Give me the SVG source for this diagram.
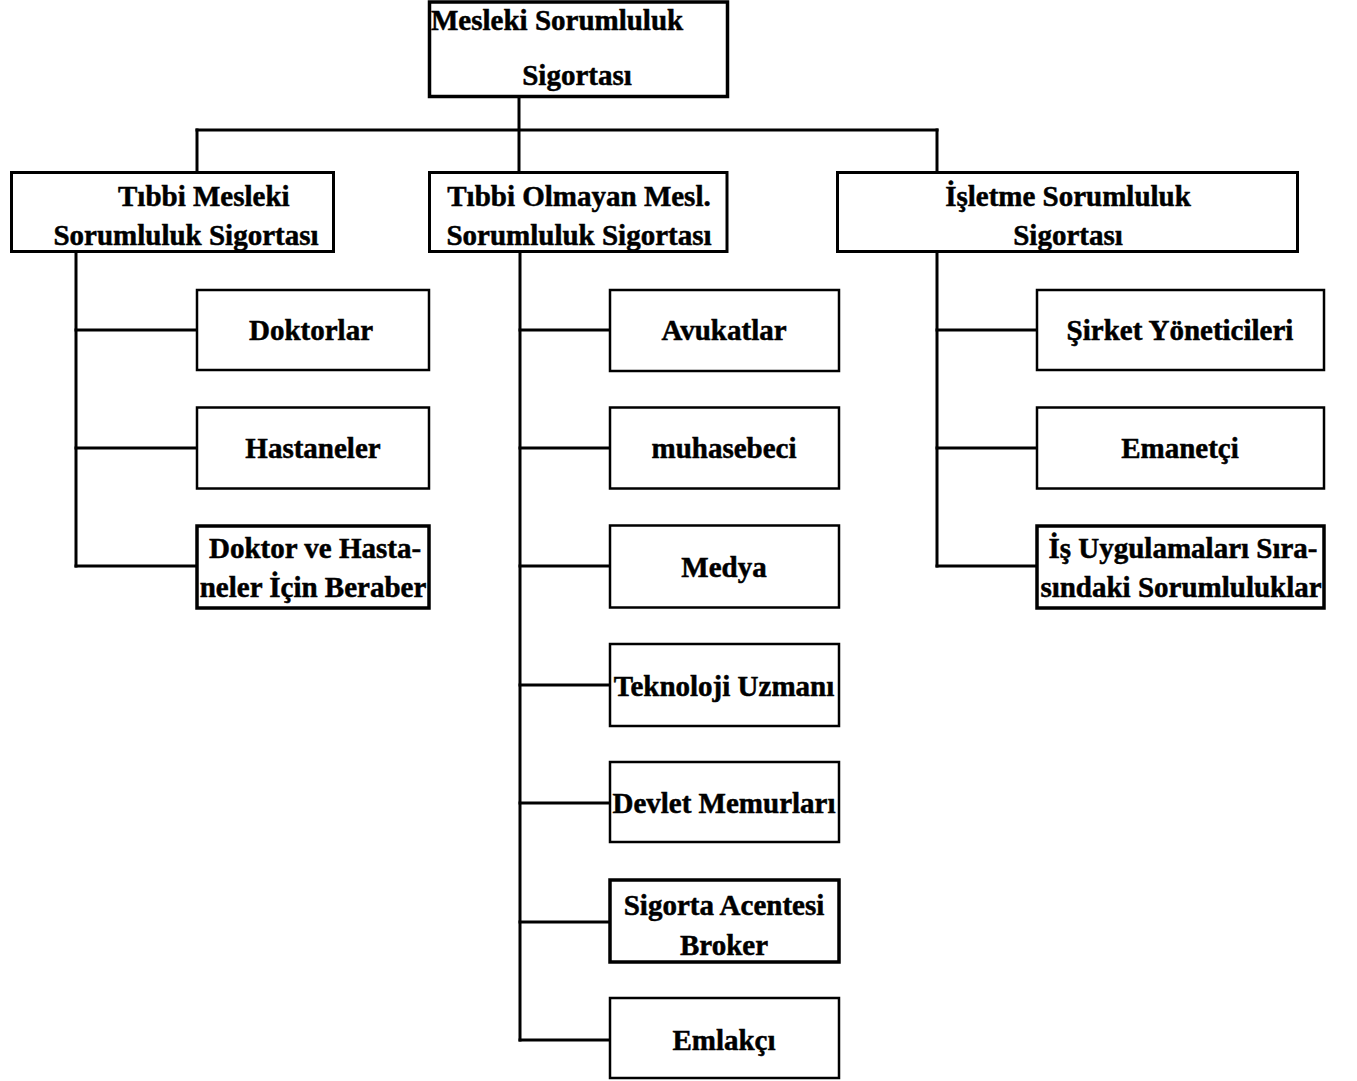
<svg xmlns="http://www.w3.org/2000/svg" width="1357" height="1081" viewBox="0 0 1357 1081">
<style>
.box{fill:#fff;stroke:#000;stroke-width:2.5}
.thick{stroke-width:3.5}
.lv2{stroke-width:3}
.t{font-family:"Liberation Serif","Times New Roman",serif;font-weight:bold;font-size:29px;fill:#000;stroke:#000;stroke-width:0.5}
.c{text-anchor:middle}
.conn line{stroke:#000;stroke-width:3;stroke-linecap:square}
</style>
<rect width="1357" height="1081" fill="#fff"/>
<g id="connectors" class="conn">
<line x1="519" y1="97" x2="519" y2="172"/>
<line x1="197" y1="130" x2="937" y2="130"/>
<line x1="197" y1="130" x2="197" y2="172"/>
<line x1="937" y1="130" x2="937" y2="172"/>
<line x1="76" y1="252" x2="76" y2="566"/>
<line x1="76" y1="330" x2="197" y2="330"/>
<line x1="76" y1="448" x2="197" y2="448"/>
<line x1="76" y1="566" x2="197" y2="566"/>
<line x1="520" y1="252" x2="520" y2="1040"/>
<line x1="520" y1="330" x2="610" y2="330"/>
<line x1="520" y1="448" x2="610" y2="448"/>
<line x1="520" y1="566" x2="610" y2="566"/>
<line x1="520" y1="685" x2="610" y2="685"/>
<line x1="520" y1="803" x2="610" y2="803"/>
<line x1="520" y1="922" x2="610" y2="922"/>
<line x1="520" y1="1040" x2="610" y2="1040"/>
<line x1="937" y1="252" x2="937" y2="566"/>
<line x1="937" y1="330" x2="1037" y2="330"/>
<line x1="937" y1="448" x2="1037" y2="448"/>
<line x1="937" y1="566" x2="1037" y2="566"/>
</g>
<g id="root">
<rect class="box thick" x="429.5" y="2" width="298" height="94.5"/>
<text class="t" x="431" y="30">Mesleki Sorumluluk</text>
<text class="t c" x="577" y="85">Sigortası</text>
</g>
<g id="tibbi">
<rect class="box lv2" x="11.5" y="172.5" width="322" height="79"/>
<text class="t" x="118" y="206">Tıbbi Mesleki</text>
<text class="t c" x="186" y="245">Sorumluluk Sigortası</text>
</g>
<g id="tibbi-olmayan">
<rect class="box lv2" x="429.5" y="172.5" width="297.5" height="79"/>
<text class="t c" x="579" y="206">Tıbbi Olmayan Mesl.</text>
<text class="t c" x="579" y="245">Sorumluluk Sigortası</text>
</g>
<g id="isletme">
<rect class="box lv2" x="837.5" y="172.5" width="460" height="79"/>
<text class="t c" x="1068" y="206">İşletme Sorumluluk</text>
<text class="t c" x="1068" y="245">Sigortası</text>
</g>
<g id="doktorlar">
<rect class="box" x="197" y="290" width="232" height="80"/>
<text class="t c" x="311" y="340">Doktorlar</text>
</g>
<g id="hastaneler">
<rect class="box" x="197" y="407.5" width="232" height="81"/>
<text class="t c" x="313" y="458">Hastaneler</text>
</g>
<g id="doktor-hastane">
<rect class="box thick" x="197" y="526" width="232" height="82"/>
<text class="t c" x="315" y="558">Doktor ve Hasta-</text>
<text class="t c" x="313" y="597">neler İçin Beraber</text>
</g>
<g id="avukatlar">
<rect class="box" x="610" y="290" width="229" height="81"/>
<text class="t c" x="724" y="340">Avukatlar</text>
</g>
<g id="muhasebeci">
<rect class="box" x="610" y="407.5" width="229" height="81"/>
<text class="t c" x="724" y="458">muhasebeci</text>
</g>
<g id="medya">
<rect class="box" x="610" y="525.5" width="229" height="82"/>
<text class="t c" x="724" y="577">Medya</text>
</g>
<g id="teknoloji">
<rect class="box" x="610" y="644" width="229" height="82"/>
<text class="t c" x="724" y="696">Teknoloji Uzmanı</text>
</g>
<g id="devlet">
<rect class="box" x="610" y="762" width="229" height="80"/>
<text class="t c" x="724" y="813">Devlet Memurları</text>
</g>
<g id="sigorta-acentesi">
<rect class="box thick" x="610" y="880" width="229" height="82"/>
<text class="t c" x="724" y="915">Sigorta Acentesi</text>
<text class="t c" x="724" y="955">Broker</text>
</g>
<g id="emlakci">
<rect class="box" x="610" y="998" width="229" height="80"/>
<text class="t c" x="724" y="1050">Emlakçı</text>
</g>
<g id="sirket">
<rect class="box" x="1037" y="290" width="287" height="80"/>
<text class="t c" x="1180" y="340">Şirket Yöneticileri</text>
</g>
<g id="emanetci">
<rect class="box" x="1037" y="407.5" width="287" height="81"/>
<text class="t c" x="1180" y="458">Emanetçi</text>
</g>
<g id="is-uygulamalari">
<rect class="box thick" x="1037" y="526" width="287" height="82"/>
<text class="t c" x="1183" y="558">İş Uygulamaları Sıra-</text>
<text class="t c" x="1181" y="597">sındaki Sorumluluklar</text>
</g>
</svg>
